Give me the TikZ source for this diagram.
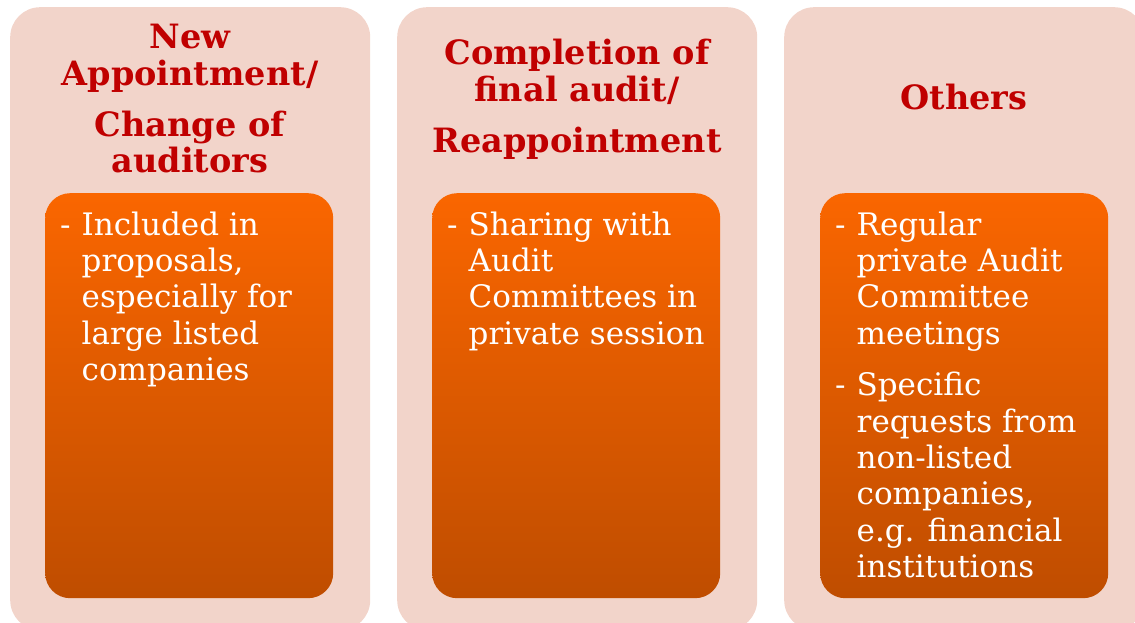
\documentclass[tikz,border=0pt]{standalone}
\usepackage{fontspec}
\setmainfont{DejaVu Serif}
\definecolor{outerpink}{HTML}{F2D4CA}
\definecolor{titlered}{HTML}{C00000}
\definecolor{orangetop}{HTML}{FA6600}
\definecolor{orangebot}{HTML}{BF4D00}
\tikzset{
  outerbox/.style={draw=none, fill=outerpink, rounded corners=30pt, inner sep=0pt,
    minimum width=360pt, minimum height=623pt, anchor=north west},
  innerbox/.style={draw=none, top color=orangetop, bottom color=orangebot, rounded corners=25pt,
    inner sep=0pt, minimum width=288pt, minimum height=405pt, anchor=north west},
  titletext/.style={font=\fontsize{33.5}{36}\selectfont\bfseries, text=titlered, inner sep=0pt, anchor=base},
  bodytext/.style={font=\fontsize{31}{36.4}\selectfont, text=white, inner sep=0pt, anchor=base west}
}
\begin{document}
\begin{tikzpicture}[x=1pt,y=-1pt]
\useasboundingbox (0,0) rectangle (1135,623);
\clip (0,0) rectangle (1135,623);
% outer columns
\node[outerbox] (o1) at (10,7) {};
\node[outerbox] (o2) at (397,7) {};
\node[outerbox] (o3) at (784,7) {};
% inner orange boxes
\node[innerbox] (i1) at (45,193) {};
\node[innerbox] (i2) at (432,193) {};
\node[innerbox] (i3) at (820,193) {};
% titles
\node[titletext] (t1) at (190,49) {\begin{tabular}[t]{@{}c@{}}New\\Appointment/\\[15pt]Change of\\auditors\end{tabular}};
\node[titletext] (t2) at (577,65) {\begin{tabular}[t]{@{}c@{}}Completion of\\final audit/\\[15pt]Reappointment\end{tabular}};
\node[titletext] (t3) at (964,110) {Others};
% bullet texts
\node[bodytext] (b1) at (60,235) {\begin{tabular}[t]{@{}l@{\hspace{11pt}}l@{}}-&Included in\\&proposals,\\&especially for\\&large listed\\&companies\end{tabular}};
\node[bodytext] (b2) at (447,235) {\begin{tabular}[t]{@{}l@{\hspace{11pt}}l@{}}-&Sharing with\\&Audit\\&Committees in\\&private session\end{tabular}};
\node[bodytext] (b3) at (835,235) {\begin{tabular}[t]{@{}l@{\hspace{11pt}}l@{}}-&Regular\\&private Audit\\&Committee\\&meetings\\[15pt]-&Specific\\&requests from\\&non-listed\\&companies,\\&e.g. financial\\&institutions\end{tabular}};
\end{tikzpicture}
\end{document}
